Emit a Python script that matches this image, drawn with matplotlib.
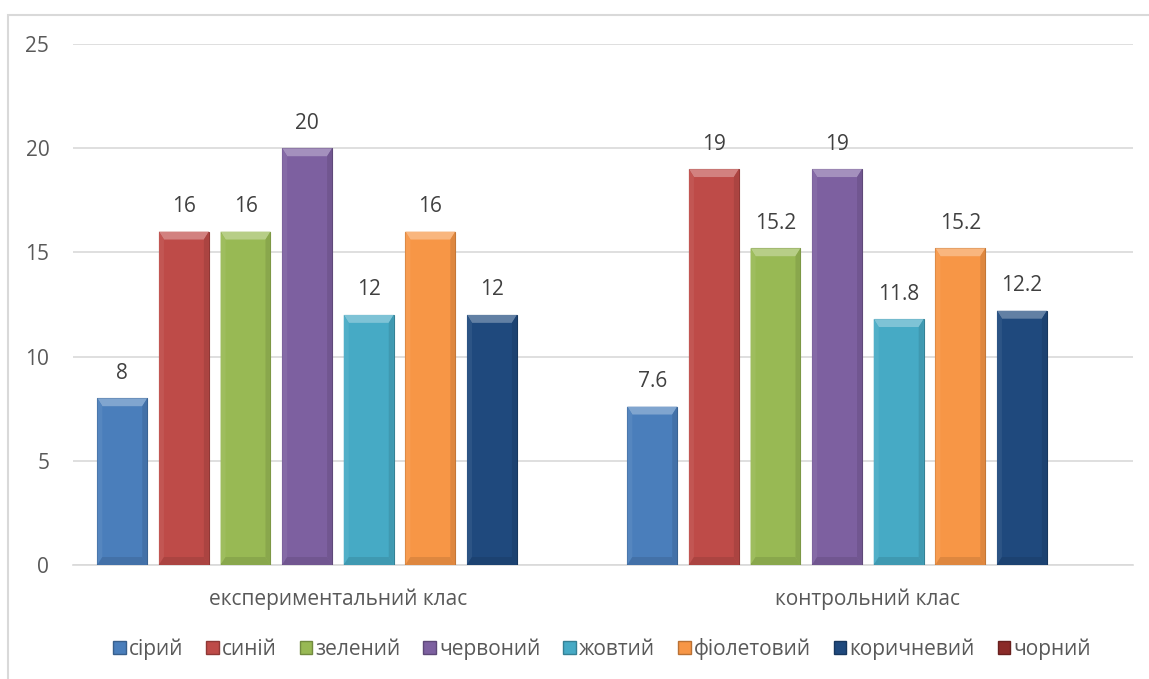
import matplotlib
matplotlib.use("Agg")
import matplotlib.pyplot as plt
import matplotlib.colors as mcol
from matplotlib.patches import Rectangle, Polygon
import numpy as np

categories = ["експериментальний клас", "контрольний клас"]
series_names = ["сірий", "синій", "зелений", "червоний", "жовтий", "фіолетовий", "коричневий", "чорний"]
values = [
    [8, 7.6],
    [16, 19],
    [16, 15.2],
    [20, 19],
    [12, 11.8],
    [16, 15.2],
    [12, 12.2],
    [None, None],
]
labels = [
    ["8", "7.6"],
    ["16", "19"],
    ["16", "15.2"],
    ["20", "19"],
    ["12", "11.8"],
    ["16", "15.2"],
    ["12", "12.2"],
    ["", ""],
]
colors = ["#4A7EBB", "#BE4B48", "#98B954", "#7D60A0", "#46AAC5", "#F79646", "#1F497D", "#8B2B28"]

plt.rcParams["font.family"] = ["Open Sans", "DejaVu Sans"]
text_col = "#595959"
fs = 15

fig = plt.figure(figsize=(11.49, 6.79), dpi=100)
ax = fig.add_axes([0.0635, 0.168, 0.9225, 0.767])

# outer chart border
fig.patches.append(Rectangle((8 / 1149, -0.1), 1.2, 1 - 15 / 679 + 0.1, transform=fig.transFigure,
                             fill=False, edgecolor="#D9D9D9", linewidth=1.5, zorder=0))

n = len(series_names)
slot = 0.93 / n
bw = slot * 0.81
x = np.arange(len(categories))


def lighten(c, f):
    r, g, b = mcol.to_rgb(c)
    return (r + (1 - r) * f, g + (1 - g) * f, b + (1 - b) * f)


def darken(c, f):
    r, g, b = mcol.to_rgb(c)
    return (r * (1 - f), g * (1 - f), b * (1 - f))


for i, name in enumerate(series_names):
    xs = x - 0.93 / 2 + slot * (i + 0.5)
    vals = values[i]
    for j, v in enumerate(vals):
        if v is None:
            continue
        x0 = xs[j] - bw / 2
        ax.bar(xs[j], v, width=bw, color=colors[i], edgecolor=darken(colors[i], 0.25),
               linewidth=0.8, zorder=3)
        # bevel: top light, sides slightly shaded
        bx = bw * 0.1
        by = 0.38
        ax.add_patch(Polygon([(x0, v), (x0 + bw, v), (x0 + bw - bx, v - by), (x0 + bx, v - by)],
                             closed=True, facecolor=lighten(colors[i], 0.3), edgecolor="none", zorder=4))
        ax.add_patch(Polygon([(x0, v), (x0 + bx, v - by), (x0 + bx, by), (x0, 0)],
                             closed=True, facecolor=lighten(colors[i], 0.06), edgecolor="none", zorder=4))
        ax.add_patch(Polygon([(x0 + bw, v), (x0 + bw - bx, v - by), (x0 + bw - bx, by), (x0 + bw, 0)],
                             closed=True, facecolor=darken(colors[i], 0.1), edgecolor="none", zorder=4))
        ax.add_patch(Polygon([(x0, 0), (x0 + bw, 0), (x0 + bw - bx, by), (x0 + bx, by)],
                             closed=True, facecolor=darken(colors[i], 0.1), edgecolor="none", zorder=4))
        ax.text(xs[j], v + 0.7, labels[i][j], ha="center", va="bottom", fontsize=fs, color="#404040")

ax.set_ylim(0, 25)
ax.set_xlim(-0.5, 1.5)
ax.set_yticks([0, 5, 10, 15, 20, 25])
ax.set_xticks(x)
ax.set_xticklabels(categories, fontsize=fs, color=text_col)
ax.tick_params(axis="y", labelsize=fs, labelcolor=text_col, length=0, pad=17)
ax.tick_params(axis="x", length=0, pad=17)
ax.grid(axis="y", color="#D9D9D9", linewidth=1.2, zorder=0)
for s in ["top", "right", "left"]:
    ax.spines[s].set_visible(False)
ax.spines["bottom"].set_color("#D9D9D9")
ax.spines["bottom"].set_linewidth(1.2)

handles = [Rectangle((0, 0), 1, 1, facecolor=c, edgecolor=darken(c, 0.25)) for c in colors]
fig.legend(handles, series_names, loc="center", bbox_to_anchor=(0.524, 1 - 649 / 679), ncol=n,
           frameon=False, fontsize=fs, handlelength=0.6, handleheight=0.6, handletextpad=0.15,
           columnspacing=1.1, labelcolor=text_col)

fig.savefig("out.png", dpi=100)
